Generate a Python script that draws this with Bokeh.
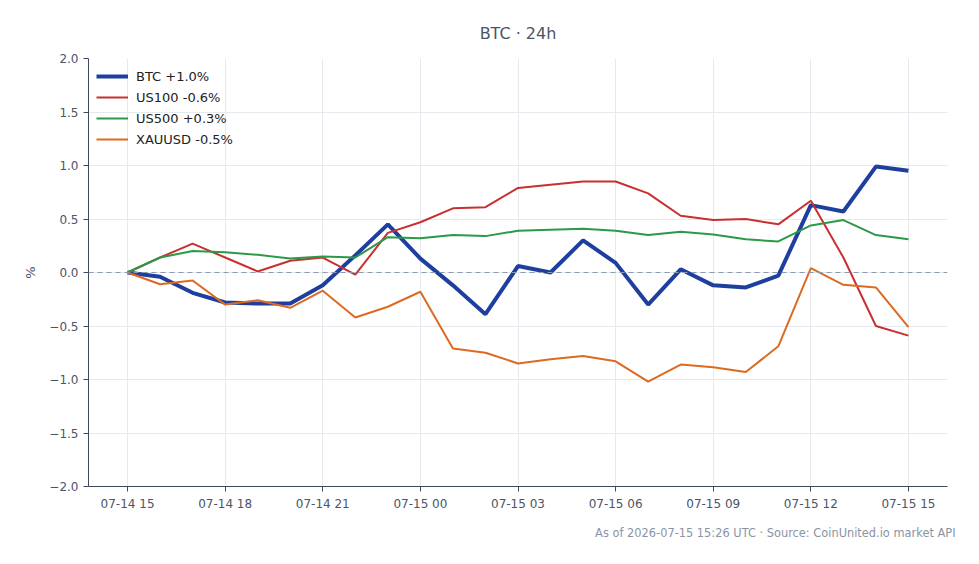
from datetime import datetime, timedelta
from bokeh.plotting import figure
from bokeh.models import (Range1d, DatetimeTickFormatter, FixedTicker, Span, Legend,
                          LegendItem, Title, SingleIntervalTicker, CustomJSTickFormatter)
from bokeh.embed import file_html
from bokeh.resources import INLINE

start = datetime(2026, 7, 14, 15)
hours = [start + timedelta(hours=i) for i in range(25)]

btc = [0.00, -0.04, -0.19, -0.28, -0.29, -0.29, -0.12, 0.16, 0.45, 0.13, -0.12, -0.39,
       0.06, 0.00, 0.30, 0.09, -0.30, 0.03, -0.12, -0.14, -0.03, 0.63, 0.57, 0.99, 0.95]
us100 = [0.00, 0.14, 0.27, 0.14, 0.01, 0.11, 0.14, -0.02, 0.37, 0.47, 0.60, 0.61,
         0.79, 0.82, 0.85, 0.85, 0.74, 0.53, 0.49, 0.50, 0.45, 0.67, 0.14, -0.50, -0.59]
us500 = [0.00, 0.14, 0.20, 0.19, 0.165, 0.13, 0.15, 0.14, 0.33, 0.32, 0.35, 0.34,
         0.39, 0.40, 0.41, 0.39, 0.35, 0.38, 0.355, 0.31, 0.29, 0.44, 0.49, 0.35, 0.31]
xauusd = [0.00, -0.11, -0.075, -0.30, -0.26, -0.33, -0.17, -0.42, -0.32, -0.18, -0.71, -0.75,
          -0.85, -0.81, -0.78, -0.83, -1.02, -0.86, -0.885, -0.93, -0.69, 0.04, -0.115, -0.14, -0.51]

series = [
    ("BTC +1.0%", btc, "#1f3f9f", 4),
    ("US100 -0.6%", us100, "#c8302f", 2),
    ("US500 +0.3%", us500, "#2a9a48", 2),
    ("XAUUSD -0.5%", xauusd, "#dd6a22", 2),
]

FONT = "DejaVu Sans"
TXT = "#4a5568"

x0 = start - timedelta(minutes=72)
x1 = hours[-1] + timedelta(minutes=72)

p = figure(width=979, height=564, output_backend="svg", toolbar_location=None,
           x_axis_type="datetime", x_range=Range1d(x0, x1), y_range=Range1d(-2.0, 2.0),
           min_border_left=88, min_border_right=32, min_border_top=58, min_border_bottom=78)
p.outline_line_color = None
p.background_fill_color = "white"
p.border_fill_color = "white"

p.title.text = "BTC · 24h"
p.title.align = "center"
p.title.text_font = FONT
p.title.text_font_size = "16px"
p.title.text_font_style = "normal"
p.title.text_color = TXT
p.title.standoff = 32

foot = Title(text="As of 2026-07-15 15:26 UTC · Source: CoinUnited.io market API",
             align="right", text_font=FONT, text_font_size="11.4px",
             text_font_style="normal", text_color="#8a94a3", offset=-8, standoff=21)
p.add_layout(foot, "below")

p.xaxis.ticker = FixedTicker(ticks=[(h - datetime(1970, 1, 1)).total_seconds() * 1000 for h in hours[::3]])
p.xaxis.formatter = DatetimeTickFormatter(hours="%m-%d %H", days="%m-%d %H")
p.yaxis.ticker = SingleIntervalTicker(interval=0.5)
p.yaxis.formatter = CustomJSTickFormatter(code="return (tick < 0 ? '\u2212' + Math.abs(tick).toFixed(1) : tick.toFixed(1));")
p.yaxis.axis_label = "%"

for ax in (p.xaxis[0], p.yaxis[0]):
    ax.axis_line_color = "#3d4a5c"
    ax.major_tick_line_color = "#3d4a5c"
    ax.minor_tick_line_color = None
    ax.major_tick_out = 5
    ax.major_tick_in = 0
    ax.major_label_text_font = FONT
    ax.major_label_text_font_size = "12px"
    ax.major_label_text_color = TXT
    ax.axis_label_text_font = FONT
    ax.axis_label_text_font_size = "13px"
    ax.axis_label_text_font_style = "normal"
    ax.axis_label_text_color = TXT
p.yaxis.axis_label_standoff = 8

p.xgrid.grid_line_color = "#e6e9ee"
p.ygrid.grid_line_color = "#e6e9ee"

p.add_layout(Span(location=0, dimension="width", line_color="#8a9ab0",
                  line_dash="5 4", line_width=1))

items = []
for name, vals, col, lw in series:
    r = p.line(hours, vals, line_color=col, line_width=lw)
    items.append(LegendItem(label=name, renderers=[r]))

legend = Legend(items=items, location="top_left", border_line_color=None,
                background_fill_alpha=0.0, label_text_font=FONT, label_text_font_size="13px",
                label_text_color="#222222", glyph_width=32, label_standoff=8,
                spacing=1, padding=6, margin=8)
p.add_layout(legend)

open("out.html", "w").write(file_html(p, INLINE))
